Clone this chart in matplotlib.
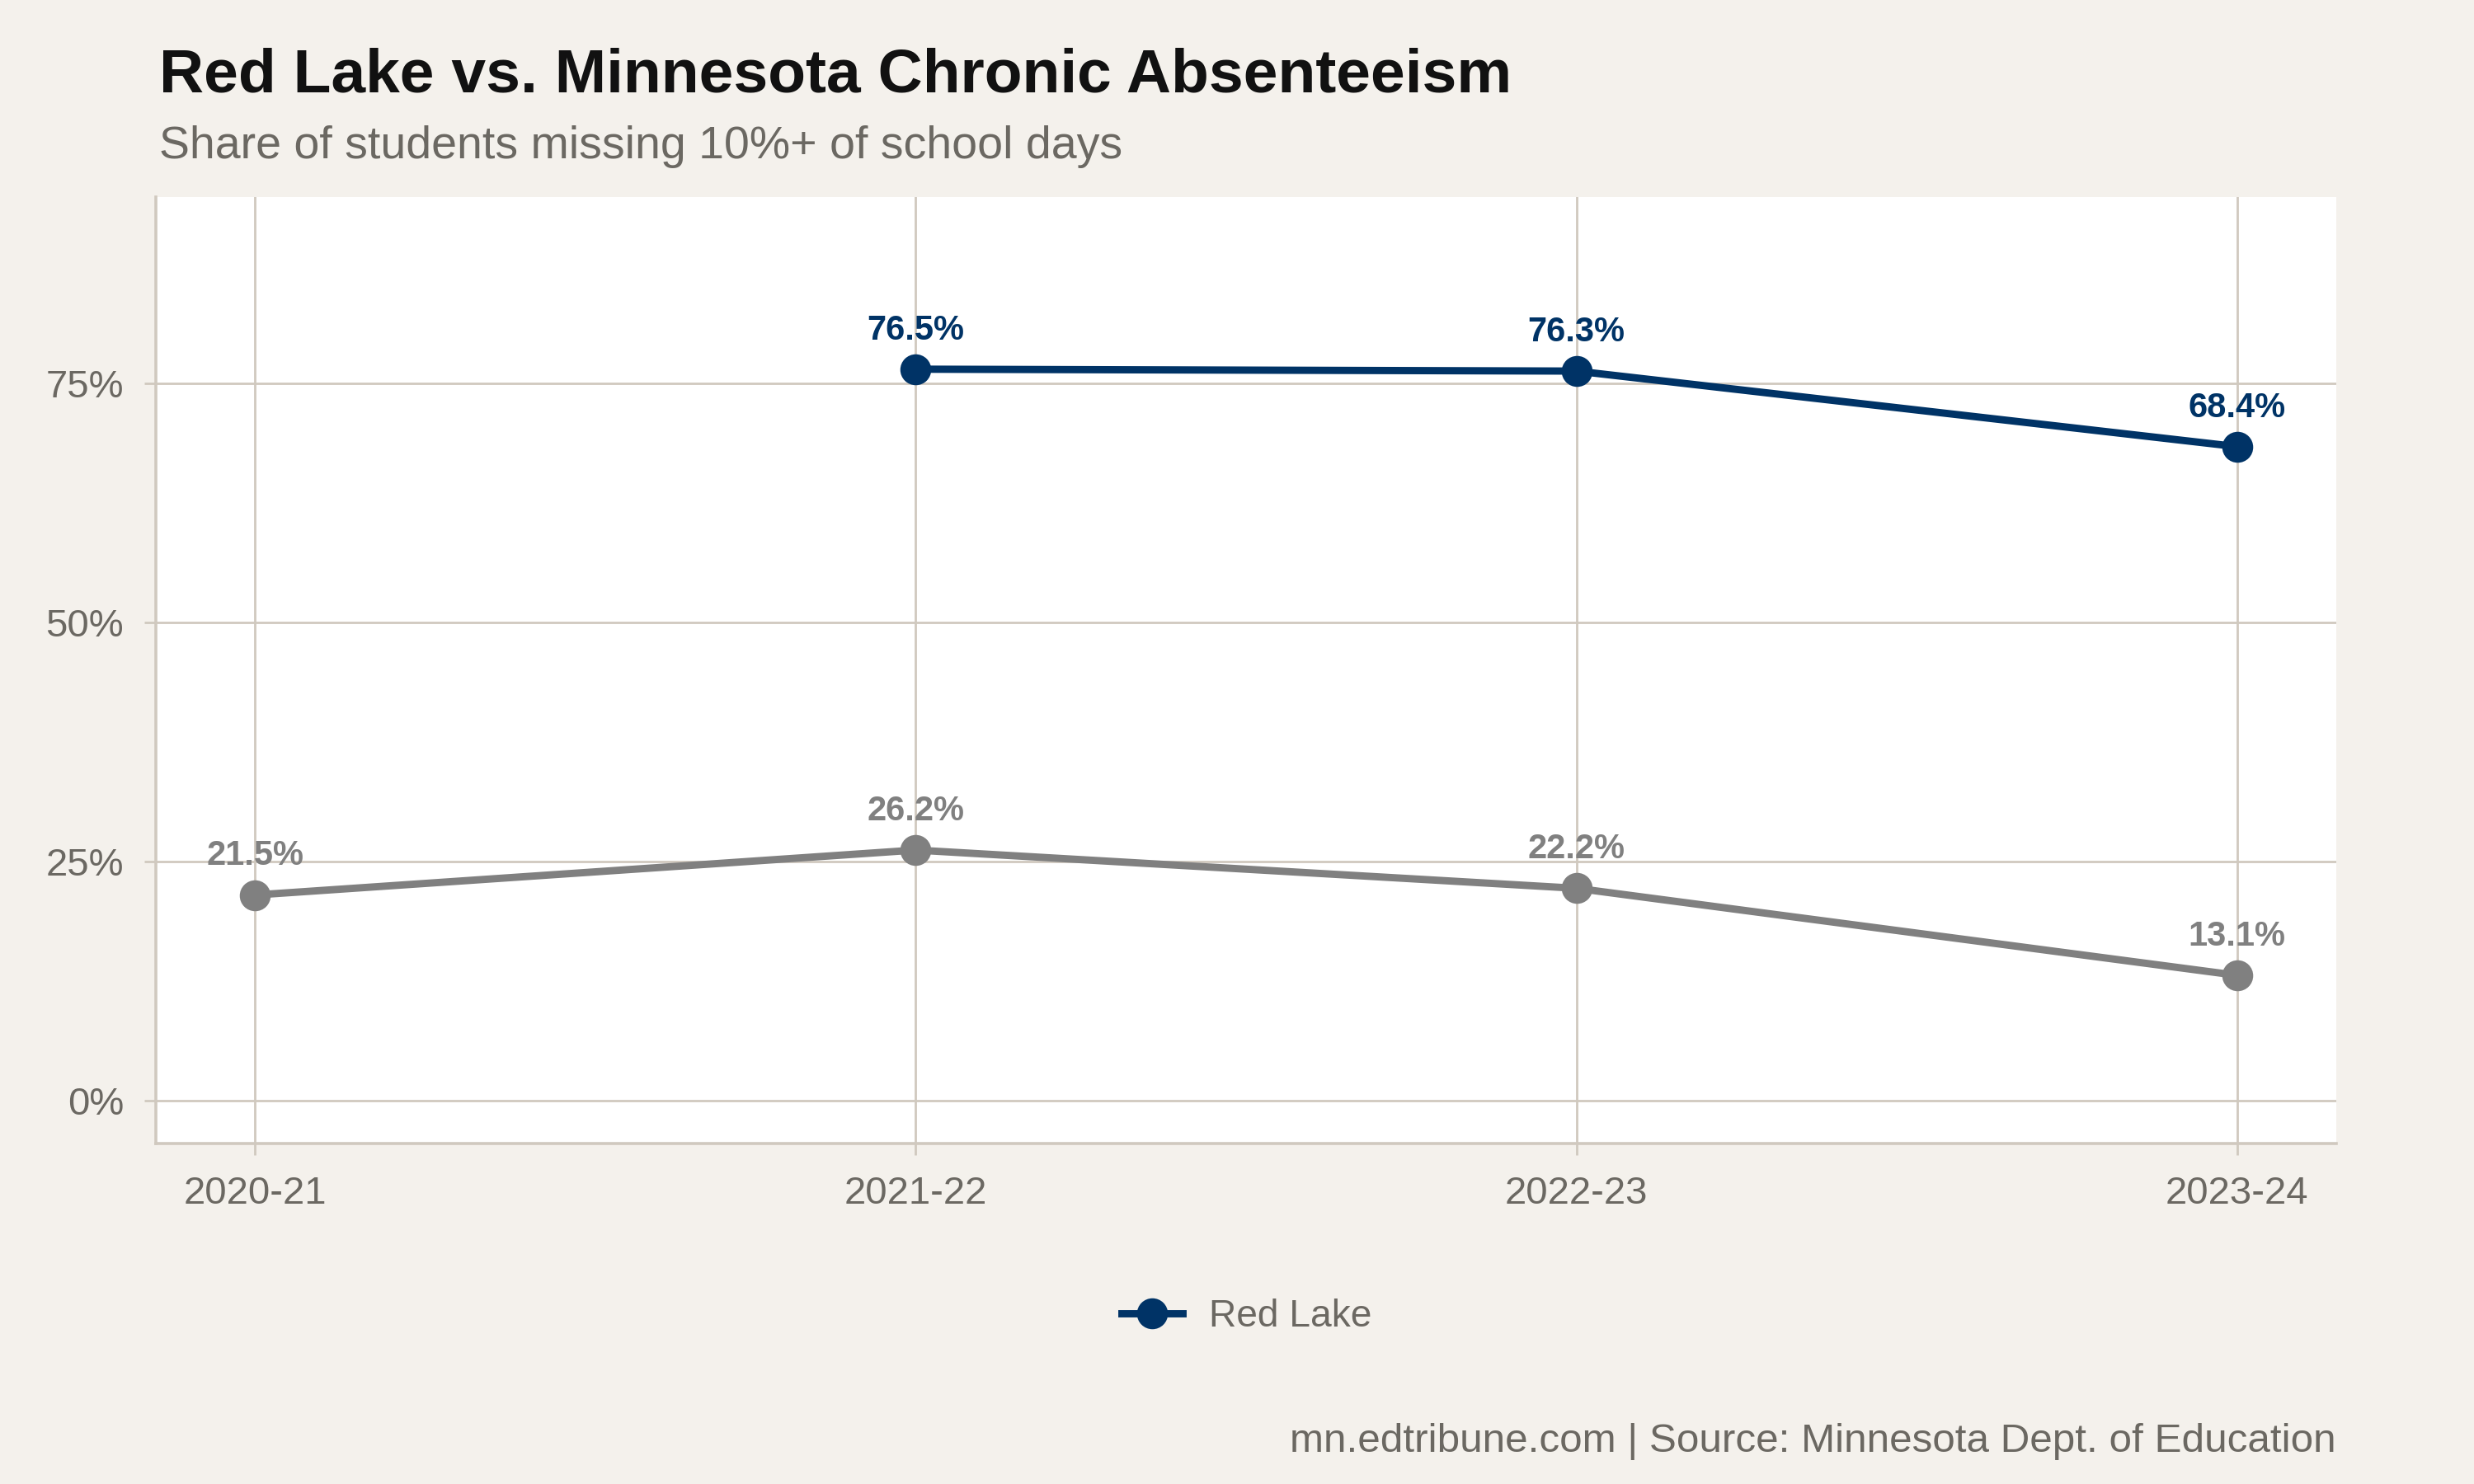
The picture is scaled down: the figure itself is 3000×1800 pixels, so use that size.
import matplotlib.pyplot as plt
from matplotlib.ticker import FuncFormatter

plt.rcParams['font.family'] = ['Liberation Sans', 'DejaVu Sans']

years = ['2020-21', '2021-22', '2022-23', '2023-24']
red_lake_years = ['2021-22', '2022-23', '2023-24']
red_lake = [76.5, 76.3, 68.4]
minnesota = [21.5, 26.2, 22.2, 13.1]
yticks = [0, 25, 50, 75]

navy = '#003366'
gray = '#808080'
bg = '#F4F1EC'
grid_c = '#D0C9BF'
text_c = '#6B6862'

fig = plt.figure(figsize=(15, 9), dpi=200, facecolor=bg)
ax = fig.add_axes([0.063, 0.2294, 0.8813, 0.6378])
ax.set_facecolor('white')

xm = [years.index(y) for y in years]
xr = [years.index(y) for y in red_lake_years]

ax.plot(xm, minnesota, color=gray, lw=3.2, marker='o', ms=12.5, zorder=3)
ax.plot(xr, red_lake, color=navy, lw=3.2, marker='o', ms=12.5, zorder=4,
        label='Red Lake')

for x, v in zip(xm, minnesota):
    ax.annotate(f'{v:.1f}%', (x, v), xytext=(0, 13), textcoords='offset points',
                ha='center', va='baseline', fontsize=15, fontweight='bold',
                color=gray, zorder=5)
for x, v in zip(xr, red_lake):
    ax.annotate(f'{v:.1f}%', (x, v), xytext=(0, 13), textcoords='offset points',
                ha='center', va='baseline', fontsize=15, fontweight='bold',
                color=navy, zorder=5)

ax.set_xlim(-0.15, 3.15)
ax.set_ylim(-4.5, 94.5)
ax.set_xticks(range(len(years)))
ax.set_xticklabels(years)
ax.set_yticks(yticks)
ax.yaxis.set_major_formatter(FuncFormatter(lambda v, p: f'{v:.0f}%'))

ax.grid(True, color=grid_c, lw=1.0, zorder=0)
ax.set_axisbelow(True)
for s in ['top', 'right']:
    ax.spines[s].set_visible(False)
for s in ['left', 'bottom']:
    ax.spines[s].set_color(grid_c)
    ax.spines[s].set_linewidth(1.3)

ax.tick_params(axis='both', colors=grid_c, labelcolor=text_c, labelsize=17,
               length=5, width=1.0)
ax.tick_params(axis='y', pad=9)
ax.tick_params(axis='x', pad=9)

fig.legend(loc='center', bbox_to_anchor=(0.504, 0.1128), frameon=False,
           fontsize=16.6, labelcolor=text_c, handlelength=1.6, handletextpad=0.7)

fig.text(0.0643, 0.9378, 'Red Lake vs. Minnesota Chronic Absenteeism',
         fontsize=27, fontweight='bold', color='#111111', va='baseline')
fig.text(0.0643, 0.8933, 'Share of students missing 10%+ of school days',
         fontsize=20, color=text_c, va='baseline')
fig.text(0.9443, 0.0217, 'mn.edtribune.com | Source: Minnesota Dept. of Education',
         fontsize=17.8, color=text_c, ha='right', va='baseline')

fig.savefig('out.png', dpi=200, facecolor=bg)
